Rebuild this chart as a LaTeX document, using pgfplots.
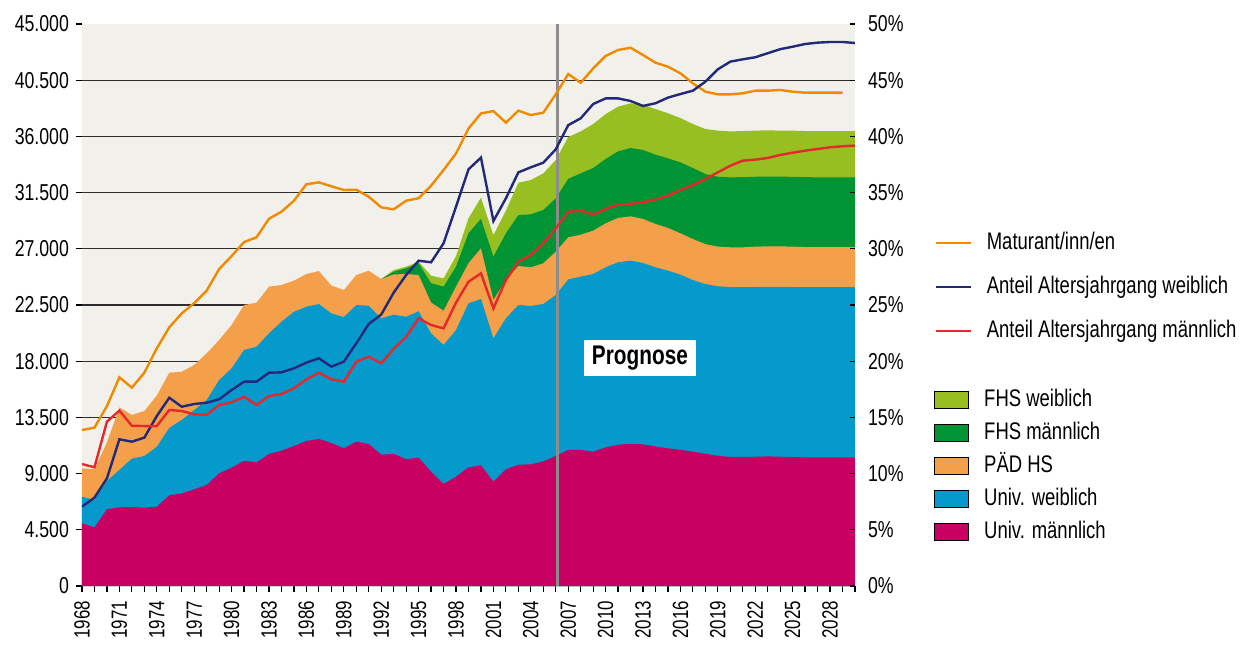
\documentclass[border=0pt]{standalone}
\usepackage{fontspec}
\setmainfont{Liberation Sans}[FakeStretch=0.77]
\usepackage{pgfplots}
\usepackage{pgfplotstable}
\pgfplotsset{compat=1.18}
\definecolor{bg}{RGB}{241,240,234}
\definecolor{um}{RGB}{199,0,98}
\definecolor{uw}{RGB}{5,153,204}
\definecolor{ph}{RGB}{244,160,74}
\definecolor{fm}{RGB}{0,148,53}
\definecolor{fw}{RGB}{151,191,34}
\definecolor{mat}{RGB}{240,138,0}
\definecolor{nav}{RGB}{34,41,122}
\definecolor{rd}{RGB}{227,41,43}
\definecolor{gridc}{RGB}{45,45,45}
\definecolor{vline}{RGB}{140,140,140}

% cumulative tops of the stacked areas (Univ. m, + Univ. w, + PAED HS)
\pgfplotstableread{
year um uw ph
1968 5020 7150 9420
1969 4700 6890 9350
1970 6140 8400 11500
1971 6300 9300 14300
1972 6330 10200 13700
1973 6270 10410 14010
1974 6350 11150 15250
1975 7260 12660 17080
1976 7420 13300 17160
1977 7740 14090 17700
1978 8090 14890 18630
1979 9020 16490 19700
1980 9470 17430 20900
1981 10030 18900 22500
1982 9900 19160 22690
1983 10570 20230 23970
1984 10830 21160 24100
1985 11210 21960 24450
1986 11610 22360 24980
1987 11770 22580 25220
1988 11450 21830 24060
1989 11030 21530 23700
1990 11560 22500 24900
1991 11370 22440 25250
1992 10520 21430 24580
1993 10570 21720 24950
1994 10150 21560 24980
1995 10280 22000 24900
1996 9150 20230 22700
1997 8170 19300 22040
1998 8750 20500 23970
1999 9500 22640 25840
2000 9660 22980 27040
2001 8350 19830 22900
2002 9340 21430 24500
2003 9710 22500 25620
2004 9740 22420 25520
2005 9980 22580 25840
2006 10410 23300 26770
2007 10900 24550 27920
2008 10900 24770 28130
2009 10750 24980 28450
2010 11100 25520 29040
2011 11310 25920 29470
2012 11390 26050 29600
2013 11340 25860 29390
2014 11180 25520 28990
2015 11020 25250 28670
2016 10910 24930 28240
2017 10750 24500 27780
2018 10590 24180 27380
2019 10430 24000 27170
2020 10330 23940 27120
2021 10330 23940 27120
2022 10350 23940 27170
2023 10380 23950 27200
2024 10350 23950 27200
2025 10330 23940 27170
2026 10300 23940 27140
2027 10300 23940 27140
2028 10300 23940 27140
2029 10300 23940 27140
2030 10300 23940 27140
}\areas

% cumulative tops of FHS maennlich and FHS weiblich
\pgfplotstableread{
year fm fw
1992 24580 24580
1993 25170 25300
1994 25440 25570
1995 25840 25970
1996 24240 24850
1997 23970 24630
1998 25570 26420
1999 28240 29440
2000 29400 31090
2001 26370 28100
2002 28240 30050
2003 29700 32290
2004 29760 32510
2005 30110 33040
2006 31040 34110
2007 32600 35950
2008 33040 36400
2009 33470 36990
2010 34190 37790
2011 34800 38380
2012 35070 38650
2013 34910 38540
2014 34540 38190
2015 34250 37850
2016 33920 37470
2017 33470 36990
2018 32990 36590
2019 32770 36460
2020 32720 36400
2021 32740 36430
2022 32770 36460
2023 32780 36490
2024 32780 36460
2025 32760 36460
2026 32740 36430
2027 32720 36430
2028 32720 36430
2029 32720 36430
2030 32720 36430
}\fhs

\pgfplotstableread{
year mat
1968 12490
1969 12680
1970 14410
1971 16710
1972 15880
1973 17080
1974 19030
1975 20710
1976 21830
1977 22650
1978 23650
1979 25380
1980 26420
1981 27540
1982 27920
1983 29410
1984 29970
1985 30850
1986 32170
1987 32320
1988 32010
1989 31710
1990 31730
1991 31170
1992 30320
1993 30160
1994 30850
1995 31050
1996 32050
1997 33310
1998 34640
1999 36630
2000 37840
2001 38030
2002 37100
2003 38060
2004 37710
2005 37900
2006 39370
2007 40990
2008 40300
2009 41440
2010 42440
2011 42920
2012 43100
2013 42520
2014 41900
2015 41580
2016 41050
2017 40250
2018 39580
2019 39370
2020 39370
2021 39450
2022 39660
2023 39660
2024 39720
2025 39580
2026 39500
2027 39500
2028 39500
2029 39500
}\matur

\pgfplotstableread{
year w m
1968 7.06 10.85
1969 7.86 10.56
1970 9.58 14.62
1971 13.05 15.60
1972 12.84 14.26
1973 13.20 14.23
1974 15.12 14.23
1975 16.75 15.66
1976 15.95 15.57
1977 16.19 15.27
1978 16.31 15.24
1979 16.61 16.10
1980 17.44 16.34
1981 18.18 16.84
1982 18.18 16.10
1983 18.98 16.90
1984 19.01 17.08
1985 19.37 17.59
1986 19.87 18.39
1987 20.26 18.98
1988 19.51 18.39
1989 19.96 18.18
1990 21.59 19.96
1991 23.31 20.40
1992 24.15 19.81
1993 26.10 21.10
1994 27.67 22.15
1995 28.94 23.82
1996 28.80 23.22
1997 30.49 22.92
1998 33.75 25.21
1999 37.07 27.07
2000 38.11 27.82
2001 32.47 24.70
2002 34.49 27.22
2003 36.80 28.85
2004 37.25 29.45
2005 37.66 30.49
2006 38.85 31.82
2007 41.00 33.28
2008 41.61 33.40
2009 42.88 33.04
2010 43.38 33.54
2011 43.38 33.93
2012 43.15 33.99
2013 42.71 34.14
2014 42.95 34.38
2015 43.45 34.73
2016 43.77 35.24
2017 44.07 35.68
2018 44.87 36.21
2019 45.97 36.80
2020 46.65 37.39
2021 46.86 37.84
2022 47.04 37.93
2023 47.40 38.08
2024 47.76 38.35
2025 47.98 38.55
2026 48.22 38.73
2027 48.34 38.88
2028 48.40 39.03
2029 48.40 39.12
2030 48.31 39.18
}\anteil

\pgfplotsset{
  /pgf/number format/assume math mode=true,
  tickfont/.style={font=\fontsize{11.5}{11.5}\selectfont},
}

\begin{document}
\begin{tikzpicture}
\useasboundingbox (-41pt,-29pt) rectangle (581pt,293pt);
\begin{axis}[
  at={(0,0)}, anchor=south west,
  scale only axis, width=386.5pt, height=281pt,
  xmin=1968, xmax=2030, ymin=0, ymax=45000,
  axis background/.style={fill=bg},
  axis x line*=bottom, axis y line*=left,
  axis line style={draw=none},
  tick align=outside,
  major tick length=3pt, minor tick length=3pt,
  every tick/.style={black, line width=0.6pt},
  xtick={1968,1971,...,2028},
  minor xtick={1968,...,2030},
  ytick={0,4500,...,45000},
  extra y ticks={4500,9000,...,40500},
  extra y tick labels={},
  extra y tick style={ymajorgrids=true, major grid style={gridc, line width=0.6pt}},
  scaled y ticks=false,
  xticklabel shift=1pt,
  xticklabel style={font=\fontsize{11}{11}\selectfont, rotate=90, anchor=east, /pgf/number format/1000 sep={}},
  yticklabel style={tickfont, /pgf/number format/fixed, /pgf/number format/1000 sep={.}},
  legend image code/.code={\fill[#1] (0pt,-4.25pt) rectangle (17pt,4.25pt);},
  legend style={at={(1.0945,0.36)}, anchor=north west, draw=none, fill=none,
    font=\fontsize{12}{12}\selectfont, row sep=4.5pt, column sep=7.5pt,
    nodes={inner sep=0pt, text height=9pt, text depth=3pt}},
  legend cell align=left,
]
\addplot[fill=fw, draw=none, forget plot] table[x=year, y=fw] {\fhs} \closedcycle;
\addplot[fill=fm, draw=none, forget plot] table[x=year, y=fm] {\fhs} \closedcycle;
\addplot[fill=ph, draw=none, forget plot] table[x=year, y=ph] {\areas} \closedcycle;
\addplot[fill=uw, draw=none, forget plot] table[x=year, y=uw] {\areas} \closedcycle;
\addplot[fill=um, draw=none, forget plot] table[x=year, y=um] {\areas} \closedcycle;
\draw[vline, line width=1.5pt] (axis cs:2006.17,0) -- (axis cs:2006.17,45000);
\addplot[mat, line width=1.2pt, forget plot] table[x=year, y=mat] {\matur};
\node[fill=white, font=\bfseries\fontsize{13.5}{13.5}\selectfont, inner xsep=4pt, inner ysep=3pt] at (axis cs:2012.75,18250) {Prognose};
\addlegendimage{fill=fw}\addlegendentry{FHS weiblich}
\addlegendimage{fill=fm}\addlegendentry{FHS männlich}
\addlegendimage{fill=ph}\addlegendentry{PÄD HS}
\addlegendimage{fill=uw}\addlegendentry{Univ. weiblich}
\addlegendimage{fill=um}\addlegendentry{Univ. männlich}
\end{axis}
\begin{axis}[
  at={(0,0)}, anchor=south west,
  scale only axis, width=386.5pt, height=281pt,
  xmin=1968, xmax=2030, ymin=0, ymax=50,
  hide x axis,
  axis y line*=right, axis line style={draw=none},
  tick align=inside, major tick length=2.5pt,
  every tick/.style={black, line width=0.6pt},
  ytick={0,5,...,50},
  yticklabel={\pgfmathprintnumber{\tick}\%},
  yticklabel style={tickfont, xshift=3pt},
  legend image code/.code={\draw[#1] (0pt,0pt) -- (17.5pt,0pt);},
  legend style={at={(1.0945,0.639)}, anchor=north west, draw=none, fill=none,
    font=\fontsize{12}{12}\selectfont, row sep=10pt, column sep=7.5pt,
    nodes={inner sep=0pt, text height=9pt, text depth=3pt}},
  legend cell align=left,
]
\addlegendimage{mat, line width=1.2pt}\addlegendentry{Maturant/inn/en}
\addplot[nav, line width=1.2pt] table[x=year, y=w] {\anteil};
\addlegendentry{Anteil Altersjahrgang weiblich}
\addplot[rd, line width=1.2pt] table[x=year, y=m] {\anteil};
\addlegendentry{Anteil Altersjahrgang männlich}
\end{axis}
\end{tikzpicture}
\end{document}
